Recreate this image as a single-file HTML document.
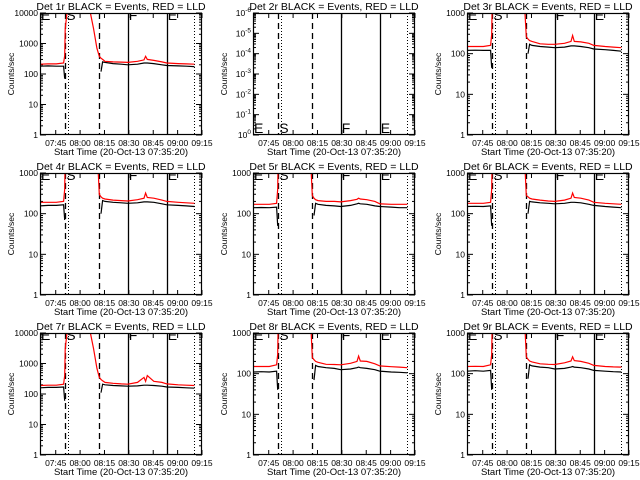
<!DOCTYPE html>
<html><head><meta charset="utf-8"><style>
html,body{margin:0;padding:0;background:#fff;}
svg{display:block;font-family:"Liberation Sans",sans-serif;}
</style></head><body>
<svg id="fig" width="640" height="480" viewBox="0 0 640 480" xmlns="http://www.w3.org/2000/svg">
<rect x="0" y="0" width="640" height="480" fill="#fff"/>
</svg>
<script>
// Shared time samples (minutes after 07:35:20)
const times = [0,5,10,14.5,15.2,15.5,16.5,17.5,20,25,28,31,33,35,36.5,37.5,38.5,40,45,50,54,60,64,65,66,70,75,78,85,90,95];
const xTickLabels = ["07:45","08:00","08:15","08:30","08:45","09:00","09:15"];
const xTickMinutes = [9.67,24.67,39.67,54.67,69.67,84.67,99.67];
const markerMinutes = {dash1:15.5, dot1:17.5, dash2:36, solid1:54, solid2:78, dot2:95};
const panelTitles = ["Det 1r","Det 2r","Det 3r","Det 4r","Det 5r","Det 6r","Det 7r","Det 8r","Det 9r"];
const panelDecades = [4,-6,3,3,3,3,4,3,3];
const N = null;
const black1 = [180,185,180,180,70,N,N,N,N,N,N,N,N,N,N,120,250,240,220,210,200,210,230,230,230,220,200,190,185,180,175];
const red1   = [210,215,215,230,400,3000,9000,20000,20000,20000,20000,10000,3000,700,380,330,300,260,250,245,240,260,290,380,300,280,250,230,220,215,210];
const black3 = [120,122,120,120,45,N,N,N,N,N,N,N,N,N,N,100,170,160,150,145,140,145,155,155,155,150,140,130,125,120,115];
const red3   = [150,150,150,160,300,2000,5000,5000,5000,5000,5000,5000,5000,3000,260,230,210,200,175,170,170,180,200,280,200,195,180,160,150,145,140];
const black4 = [155,160,160,165,70,N,N,N,N,N,N,N,N,N,N,100,210,200,190,185,180,185,195,195,195,190,175,165,160,155,150];
const red4   = [190,190,190,200,400,3000,5000,5000,5000,5000,5000,5000,5000,5000,300,260,240,230,215,210,205,220,240,320,250,240,215,200,190,185,180];
const black5 = [140,142,140,145,50,N,N,N,N,N,N,N,N,N,N,90,180,170,160,155,150,160,175,180,175,170,155,150,145,140,140];
const red5   = [170,170,170,180,400,3000,5000,5000,5000,5000,5000,5000,5000,5000,280,240,220,210,200,200,195,210,225,240,230,220,200,175,170,170,170];
const black6 = [150,152,150,155,50,N,N,N,N,N,N,N,N,N,N,100,200,195,185,180,175,180,190,190,190,185,170,160,150,145,140];
const red6   = [180,180,180,190,400,3000,5000,5000,5000,5000,5000,5000,5000,5000,280,260,240,230,215,205,200,215,240,320,250,240,215,190,180,175,170];
const black7 = [160,165,165,170,60,N,N,N,N,N,N,N,N,N,N,110,210,200,190,185,180,185,195,195,195,190,180,170,165,160,155];
const red7   = [190,195,195,210,400,3000,9000,20000,20000,20000,20000,10000,3000,700,350,300,270,240,225,215,210,240,350,260,400,260,240,215,200,195,190];
const black8 = [110,112,110,115,40,N,N,N,N,N,N,N,N,N,N,70,160,150,140,135,125,130,140,145,140,135,125,115,110,108,105];
const red8   = [150,150,150,165,300,2000,5000,5000,5000,5000,5000,5000,5000,5000,250,220,200,190,170,168,165,180,200,270,205,200,175,155,148,145,140];
const black9 = [115,118,115,120,40,N,N,N,N,N,N,N,N,N,N,75,165,155,145,140,130,135,145,150,145,140,130,120,115,112,110];
const red9   = [150,152,150,165,300,2000,5000,5000,5000,5000,5000,5000,5000,5000,260,225,205,195,175,170,168,185,205,260,210,200,180,160,150,147,145];
const blackSeries = [black1,[],black3,black4,black5,black6,black7,black8,black9];
const redSeries = [red1,[],red3,red4,red5,red6,red7,red8,red9];

const NS="http://www.w3.org/2000/svg";
const fig=document.getElementById('fig');
function mk(tag,attrs,parent){const e=document.createElementNS(NS,tag);for(const k in attrs)e.setAttribute(k,attrs[k]);(parent||fig).appendChild(e);return e;}
const colX=[40,253,467], rowY=[13,173,333], W=162, H=122, TMAX=99.67;

for(let p=0;p<9;p++){
  const x0=colX[p%3], y0=rowY[Math.floor(p/3)];
  const g=mk('g',{});
  
  
  const xs=t=>x0+t/TMAX*W;
  const dec=panelDecades[p];
  const inverted = dec<0;
  const ysp = v => y0+H-(Math.log10(v)/dec)*H;
  const cid='clip'+p;
  const cp=mk('clipPath',{id:cid},g); mk('rect',{x:x0,y:y0,width:W,height:H},cp);
  const tt=mk('text',{x:x0+W/2,y:y0-3,'text-anchor':'middle','font-size':'10.5'},g);
  tt.textContent=panelTitles[p]+" BLACK = Events, RED = LLD";
  
  
  const nd=Math.abs(dec);
  for(let d=0;d<=nd;d++){
    const yy=y0+H-d/nd*H;
    mk('line',{x1:x0,x2:x0+6,y1:yy,y2:yy,stroke:'#000'},g);
    mk('line',{x1:x0+W-6,x2:x0+W,y1:yy,y2:yy,stroke:'#000'},g);
    if(d<nd){for(let m=2;m<10;m++){const ym=yy-Math.log10(m)/nd*H;
      mk('line',{x1:x0,x2:x0+3,y1:ym,y2:ym,stroke:'#000'},g);
      mk('line',{x1:x0+W-3,x2:x0+W,y1:ym,y2:ym,stroke:'#000'},g);}}
    const lt=mk('text',{x:x0-2,y:yy+3,'text-anchor':'end','font-size':'8.5'},g);
    
    
    if(inverted){ lt.textContent='10'; const s=mk('tspan',{dy:'-4','font-size':'6.5'},lt); s.textContent=(d==0?'0':'-'+d); }
    else lt.textContent=String(Math.pow(10,d));
  }
  const yt=mk('text',{x:x0-26,y:y0+H/2,'text-anchor':'middle','font-size':'8.5',transform:`rotate(-90 ${x0-26} ${y0+H/2})`},g);
  yt.textContent='Counts/sec';
  
  
  xTickMinutes.forEach((m,i)=>{const xx=xs(m);
    mk('line',{x1:xx,x2:xx,y1:y0+H,y2:y0+H-5,stroke:'#000'},g);
    mk('line',{x1:xx,x2:xx,y1:y0,y2:y0+5,stroke:'#000'},g);
    const xl=mk('text',{x:xx,y:y0+H+11,'text-anchor':'middle','font-size':'8.5'},g);
    xl.textContent=xTickLabels[i];
    
    
  });
  const xt=mk('text',{x:x0+W/2,y:y0+H+20,'text-anchor':'middle','font-size':'9.5'},g);
  xt.textContent='Start Time (20-Oct-13 07:35:20)';
  
  
  const ml=[['dash1','6,4'],['dot1','1,2'],['dash2','6,4'],['solid1',''],['solid2',''],['dot2','1,2']];
  ml.forEach(([k,da])=>{const xx=Math.round(xs(markerMinutes[k]))+0.5;
    const l=mk('line',{x1:xx,x2:xx,y1:y0,y2:y0+H,stroke:'#000','stroke-width':da==='1,2'?1:1.3,'stroke-dasharray':da},g);
    
    
  });
  const letters=[['E',x0+1],['S',xs(markerMinutes.dash1)+1],['F',xs(markerMinutes.solid1)+1],['E',xs(markerMinutes.solid2)+1]];
  const lg=mk('g',{'clip-path':`url(#${cid})`},g);
  letters.forEach(([c,xx])=>{const ly=inverted?y0+H-2:y0+7;
    const t=mk('text',{x:xx,y:ly,'font-size':'14'},lg);t.textContent=c;
    
    
  });
  const dg=mk('g',{'clip-path':`url(#${cid})`},g);
  [[blackSeries[p],'#000','events-series'],[redSeries[p],'#f00','lld-series']].forEach(([arr,col,nm])=>{
    if(!arr.length) return;
    let d='',pen=false;
    arr.forEach((v,i)=>{ if(v==null){pen=false;return;}
      const X=xs(times[i]).toFixed(1), Y=ysp(v).toFixed(1);
      d+=(pen?'L':'M')+X+','+Y; pen=true; });
    const pa=mk('path',{d:d,fill:'none',stroke:col,'stroke-width':1.2},dg);
    
    
  });
  mk('rect',{x:x0+0.5,y:y0+0.5,width:W-1,height:H-1,fill:'none',stroke:'#000','stroke-width':1.2},g);
}
</script>
</body></html>
